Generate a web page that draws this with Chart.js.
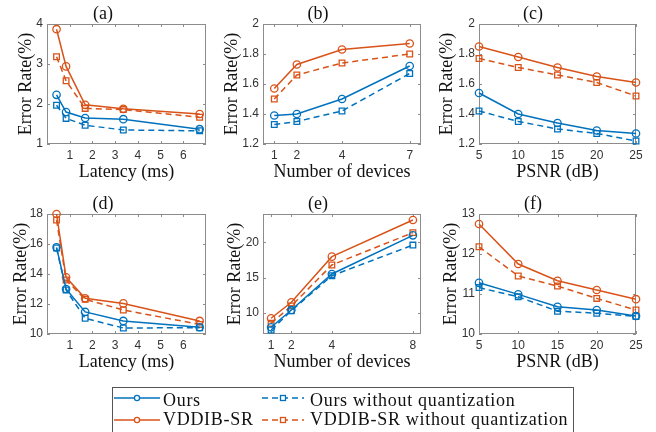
<!DOCTYPE html>
<html>
<head>
<meta charset="utf-8">
<title>Error rate panels</title>
<script src="https://cdn.jsdelivr.net/npm/chart.js@4.4.0/dist/chart.umd.min.js"></script>
<style>
  body { margin: 0; background: #fff; }
  #wrap { position: relative; width: 656px; height: 432px; overflow: hidden; background: #fff; }
  #wrap canvas { position: absolute; }
  .legendBox { position: absolute; left: 112px; top: 387px; width: 462px; height: 60px; border: 1px solid #555; box-sizing: border-box; }
  .legendText { position: absolute; font-family: "Liberation Serif", "Times New Roman", serif; font-size: 18px; line-height: 20px; letter-spacing: 0.7px; color: #111; white-space: nowrap; }
  #legendMarks { position: absolute; left: 0; top: 0; pointer-events: none; }
</style>
</head>
<body>
<div id="wrap">
  <canvas id="chartA" width="215" height="190" style="left:0;top:0"></canvas>
  <canvas id="chartB" width="215" height="190" style="left:215px;top:0"></canvas>
  <canvas id="chartC" width="226" height="190" style="left:430px;top:0"></canvas>
  <canvas id="chartD" width="215" height="190" style="left:0;top:190px"></canvas>
  <canvas id="chartE" width="215" height="190" style="left:215px;top:190px"></canvas>
  <canvas id="chartF" width="226" height="190" style="left:430px;top:190px"></canvas>

  <div class="legendBox"></div>
  <svg id="legendMarks" width="656" height="432"></svg>
  <div class="legendText" style="left:163px;top:390px">Ours</div>
  <div class="legendText" style="left:163px;top:409px">VDDIB-SR</div>
  <div class="legendText" style="left:310px;top:390px">Ours without quantization</div>
  <div class="legendText" style="left:310px;top:409px">VDDIB-SR without quantization</div>
</div>

<script>
// ---- data ----
const seriesNames = ['Ours', 'VDDIB-SR', 'Ours without quantization', 'VDDIB-SR without quantization'];

// x values
const latency = [0.42, 0.84, 1.68, 3.36, 6.72];
const devicesB = [1, 2, 4, 7];
const devicesE = [1, 2, 4, 8];
const psnr = [5, 10, 15, 20, 25];

// (a) latency, first dataset
const oursA = [2.23, 1.80, 1.65, 1.62, 1.37];
const vddA = [3.87, 2.94, 1.98, 1.88, 1.75];
const oursNqA = [1.97, 1.64, 1.47, 1.35, 1.33];
const vddNqA = [3.18, 2.58, 1.89, 1.86, 1.67];

// (b) devices, first dataset
const oursB = [1.39, 1.40, 1.50, 1.72];
const vddB = [1.57, 1.73, 1.83, 1.87];
const oursNqB = [1.33, 1.35, 1.42, 1.67];
const vddNqB = [1.50, 1.66, 1.74, 1.80];

// (c) PSNR, first dataset
const oursC = [1.54, 1.40, 1.34, 1.29, 1.27];
const vddC = [1.85, 1.78, 1.71, 1.65, 1.61];
const oursNqC = [1.42, 1.35, 1.30, 1.27, 1.22];
const vddNqC = [1.77, 1.71, 1.66, 1.61, 1.52];

// (d) latency, second dataset
const oursD = [15.78, 13.0, 11.47, 10.87, 10.45];
const vddD = [18.0, 13.78, 12.38, 12.04, 10.87];
const oursNqD = [15.73, 12.93, 11.05, 10.4, 10.42];
const vddNqD = [17.6, 13.6, 12.31, 11.6, 10.64];

// (e) devices, second dataset
const oursE = [7.95, 10.4, 15.5, 20.98];
const vddE = [9.23, 11.49, 17.96, 23.15];
const oursNqE = [7.57, 10.3, 15.26, 19.6];
const vddNqE = [8.52, 10.97, 16.78, 21.36];

// (f) PSNR, second dataset
const oursF = [11.28, 10.99, 10.68, 10.6, 10.45];
const vddF = [12.75, 11.75, 11.33, 11.1, 10.87];
const oursNqF = [11.16, 10.93, 10.57, 10.52, 10.44];
const vddNqF = [12.18, 11.45, 11.2, 10.89, 10.6];

// tick values
const latencyTicks = [1, 2, 3, 4, 5, 6];
const devicesTicksB = [1, 2, 4, 7];
const devicesTicksE = [1, 2, 4, 8];
const psnrTicks = [5, 10, 15, 20, 25];
const yTicksA = [1, 2, 3, 4];
const yTicksBC = [1.2, 1.4, 1.6, 1.8, 2];
const yTicksD = [10, 12, 14, 16, 18];
const yTicksE = [10, 15, 20];
const yTicksF = [10, 11, 12, 13];

// ---- styling ----
const BLUE = '#0072BD';
const ORANGE = '#D95319';
const SERIF = '"Liberation Serif", "Times New Roman", serif';
const SANS = '"Liberation Sans", Arial, sans-serif';

// box around plot area with inward ticks, MATLAB style
const axesBox = {
  id: 'axesBox',
  beforeDatasetsDraw(chart) {
    const { ctx, chartArea: a, scales: { x, y } } = chart;
    ctx.save();
    ctx.strokeStyle = '#8c8c8c';
    ctx.lineWidth = 1;
    ctx.strokeRect(Math.round(a.left) + 0.5, Math.round(a.top) + 0.5,
      Math.round(a.width) - 1, Math.round(a.height) - 1);
    ctx.beginPath();
    x.ticks.forEach(t => {
      const px = Math.round(x.getPixelForValue(t.value)) + 0.5;
      ctx.moveTo(px, a.bottom); ctx.lineTo(px, a.bottom - 3);
      ctx.moveTo(px, a.top); ctx.lineTo(px, a.top + 3);
    });
    y.ticks.forEach(t => {
      const py = Math.round(y.getPixelForValue(t.value)) + 0.5;
      ctx.moveTo(a.left, py); ctx.lineTo(a.left + 3, py);
      ctx.moveTo(a.right, py); ctx.lineTo(a.right - 3, py);
    });
    ctx.stroke();
    ctx.restore();
  }
};

const makeSeries = (xs, ys, color, dashed) => ({
  data: xs.map((x, i) => ({ x: x, y: ys[i] })),
  borderColor: color,
  borderWidth: 1.5,
  borderDash: dashed ? [6, 4] : [],
  pointStyle: dashed ? 'rect' : 'circle',
  pointRadius: dashed ? 4 : 3.7,
  pointBorderWidth: 1.3,
  pointBorderColor: color,
  pointBackgroundColor: 'rgba(0,0,0,0)',
  tension: 0,
  clip: false
});

const panels = [
  { id: 'chartA', yW: 47, padR: 9, yTitlePad: 15, title: '(a)', xLabel: 'Latency (ms)', xs: latency, xMin: 0, xMax: 7,
    xTicks: latencyTicks, yMin: 1, yMax: 4, yTicks: yTicksA, ys: [oursA, vddA, oursNqA, vddNqA] },
  { id: 'chartB', yW: 48, padR: 9, yTitlePad: 6, title: '(b)', xLabel: 'Number of devices', xs: devicesB, xMin: 0.5, xMax: 7.5,
    xTicks: devicesTicksB, yMin: 1.2, yMax: 2, yTicks: yTicksBC, ys: [oursB, vddB, oursNqB, vddNqB] },
  { id: 'chartC', yW: 49, padR: 20, yTitlePad: 6, title: '(c)', xLabel: 'PSNR (dB)', xs: psnr, xMin: 5, xMax: 25,
    xTicks: psnrTicks, yMin: 1.2, yMax: 2, yTicks: yTicksBC, ys: [oursC, vddC, oursNqC, vddNqC] },
  { id: 'chartD', yW: 47, padR: 9, yTitlePad: 10, title: '(d)', xLabel: 'Latency (ms)', xs: latency, xMin: 0, xMax: 7,
    xTicks: latencyTicks, yMin: 10, yMax: 18, yTicks: yTicksD, ys: [oursD, vddD, oursNqD, vddNqD] },
  { id: 'chartE', yW: 48, padR: 9, yTitlePad: 9.5, title: '(e)', xLabel: 'Number of devices', xs: devicesE, xMin: 0.6, xMax: 8.4,
    xTicks: devicesTicksE, yMin: 7, yMax: 24, yTicks: yTicksE, ys: [oursE, vddE, oursNqE, vddNqE] },
  { id: 'chartF', yW: 49, padR: 20, yTitlePad: 10, title: '(f)', xLabel: 'PSNR (dB)', xs: psnr, xMin: 5, xMax: 25,
    xTicks: psnrTicks, yMin: 10, yMax: 13, yTicks: yTicksF, ys: [oursF, vddF, oursNqF, vddNqF] }
];

const colors = [BLUE, ORANGE, BLUE, ORANGE];
const dashed = [false, false, true, true];

panels.forEach(p => {
  new Chart(document.getElementById(p.id), {
    type: 'line',
    data: {
      datasets: p.ys.map((ys, i) => Object.assign(
        { label: seriesNames[i] }, makeSeries(p.xs, ys, colors[i], dashed[i])))
    },
    options: {
      responsive: false,
      animation: false,
      devicePixelRatio: 1,
      layout: { padding: { left: 0, right: p.padR, top: 0, bottom: 0 } },
      plugins: {
        legend: { display: false },
        tooltip: { enabled: false },
        title: {
          display: true, text: p.title, color: '#111',
          font: { family: SERIF, size: 18, weight: 'normal', lineHeight: 1 },
          padding: { top: 5, bottom: 1 }
        }
      },
      scales: {
        x: {
          type: 'linear', min: p.xMin, max: p.xMax,
          afterBuildTicks: s => { s.ticks = p.xTicks.map(v => ({ value: v })); },
          afterFit: s => { s.height = 46; },
          grid: { display: false, drawTicks: false },
          border: { display: false },
          ticks: { color: '#333', padding: 4, maxRotation: 0, autoSkip: false,
                   font: { family: SANS, size: 12 }, callback: v => String(v) },
          title: { display: true, text: p.xLabel, color: '#111',
                   font: { family: SERIF, size: 18 }, padding: { top: 0, bottom: 7 } }
        },
        y: {
          type: 'linear', min: p.yMin, max: p.yMax,
          afterBuildTicks: s => { s.ticks = p.yTicks.map(v => ({ value: v })); },
          afterFit: s => { s.width = p.yW; },
          grid: { display: false, drawTicks: false },
          border: { display: false },
          ticks: { color: '#333', padding: 4, autoSkip: false,
                   font: { family: SANS, size: 12 }, callback: v => String(v) },
          title: { display: true, text: 'Error Rate(%)', color: '#111',
                   font: { family: SERIF, size: 18 }, padding: { top: p.yTitlePad, bottom: 0 } }
        }
      }
    },
    plugins: [axesBox]
  });
});

// ---- legend samples ----
const svg = document.getElementById('legendMarks');
const NS = 'http://www.w3.org/2000/svg';
const legendRows = [
  { x1: 114, x2: 160, y: 398, color: BLUE, dash: false },
  { x1: 114, x2: 160, y: 420, color: ORANGE, dash: false },
  { x1: 262, x2: 304, y: 398, color: BLUE, dash: true },
  { x1: 262, x2: 304, y: 420, color: ORANGE, dash: true }
];
legendRows.forEach(r => {
  const line = document.createElementNS(NS, 'line');
  line.setAttribute('x1', r.x1); line.setAttribute('x2', r.x2);
  line.setAttribute('y1', r.y); line.setAttribute('y2', r.y);
  line.setAttribute('stroke', r.color); line.setAttribute('stroke-width', 1.5);
  if (r.dash) line.setAttribute('stroke-dasharray', '6 4');
  svg.appendChild(line);
  const cx = (r.x1 + r.x2) / 2;
  let m;
  if (r.dash) {
    m = document.createElementNS(NS, 'rect');
    m.setAttribute('x', cx - 2.5); m.setAttribute('y', r.y - 2.5);
    m.setAttribute('width', 5); m.setAttribute('height', 5);
  } else {
    m = document.createElementNS(NS, 'circle');
    m.setAttribute('cx', cx); m.setAttribute('cy', r.y); m.setAttribute('r', 2.6);
  }
  m.setAttribute('fill', '#fff');
  m.setAttribute('stroke', r.color); m.setAttribute('stroke-width', 1.3);
  svg.appendChild(m);
});
</script>
</body>
</html>
